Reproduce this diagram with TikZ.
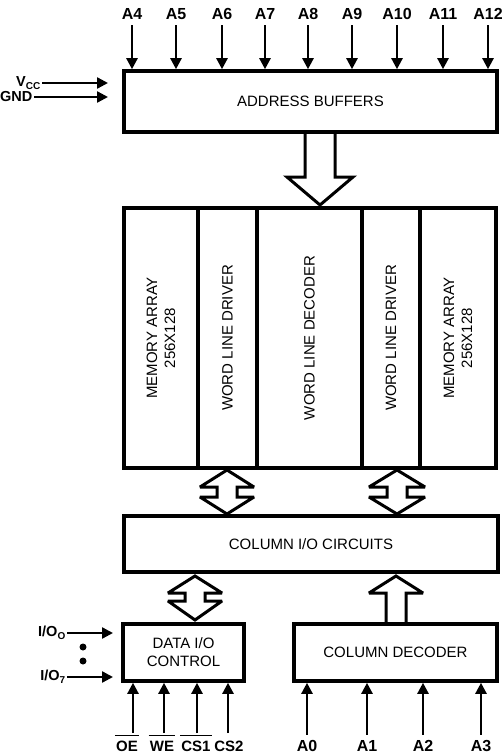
\documentclass[tikz,border=0pt]{standalone}
\usepackage{fontspec}
\setmainfont{Liberation Sans}
\usetikzlibrary{arrows.meta,calc}
\newcommand\sub[1]{\raisebox{-0.35ex}{\fontsize{10}{10}\selectfont #1}}
\begin{document}
\begin{tikzpicture}[x=1pt,y=-1pt,
  box/.style={draw, line width=3.6pt, inner sep=0pt, align=center,
    font=\fontsize{15}{18}\selectfont},
  pin/.style={font=\bfseries\fontsize{16}{18}\selectfont, inner sep=1.5pt},
  bpin/.style={font=\bfseries\fontsize{15}{18}\selectfont, inner sep=1pt},
  side/.style={font=\bfseries\fontsize{14.5}{16}\selectfont, inner sep=1.5pt, anchor=east},
  sig/.style={line width=2.4pt, -{Triangle[length=11pt,width=11pt]}},
  fat/.style={line width=3pt, line join=miter, miter limit=3},
  dotmark/.style={circle, fill, inner sep=0pt, minimum size=7pt}]
\useasboundingbox (0,0) rectangle (502,755);

% boxes
\node[box, minimum width=373pt, minimum height=61pt] (addr) at (310.5,101.5) {ADDRESS BUFFERS};
\node[box, minimum width=74pt, minimum height=260pt] (mem1) at (161,338) {};
\node[box, minimum width=59pt, minimum height=260pt] (wld1) at (227.5,338) {};
\node[box, minimum width=105pt, minimum height=260pt] (dec) at (309.5,338) {};
\node[box, minimum width=58pt, minimum height=260pt] (wld2) at (391,338) {};
\node[box, minimum width=76pt, minimum height=260pt] (mem2) at (458,338) {};
\node[box, draw=none, rotate=90] at (mem1.center) {MEMORY ARRAY\\256X128};
\node[box, draw=none, rotate=90] at (wld1.center) {WORD LINE DRIVER};
\node[box, draw=none, rotate=90] at (dec.center) {WORD LINE DECODER};
\node[box, draw=none, rotate=90] at (wld2.center) {WORD LINE DRIVER};
\node[box, draw=none, rotate=90] at (mem2.center) {MEMORY ARRAY\\256X128};
\node[box, minimum width=374pt, minimum height=56pt] (colio) at (311,544) {COLUMN I/O CIRCUITS};
\node[box, minimum width=121pt, minimum height=57pt] (dio) at (183.5,652.5) {DATA I/O\\CONTROL};
\node[box, minimum width=203pt, minimum height=57pt] (cdec) at (395.5,652.5) {COLUMN DECODER};

% top address pins
\foreach \x/\t in {132/A4,176/A5,222/A6,265/A7,308/A8,352/A9,397/A10,443/A11,488/A12}{
  \node[pin] (p\t) at (\x,14) {\t};
  \draw[sig] (p\t.south |- 0,25) -- (p\t.south |- addr.north);
}

% Vcc / GND
\node[side] (vcc) at (42,83) {V\sub{CC}};
\node[side] (gnd) at (34,97) {GND};
\coordinate (vccend) at (108,83);
\coordinate (gndend) at (108,97);
\draw[sig] (vcc.east) -- (vccend);
\draw[sig] (gnd.east) -- (gndend);

% fat arrow address -> array
\draw[fat] (305,132) -- (305,177) -- (287,177) -- (320,205) -- (353,177) -- (335,177) -- (335,132);

% double arrows
\newcommand\fatdbl[5]{% c, top, bottom, hbot, W
  \draw[fat] (#1,#2) -- (#1+#5,#2+17) -- (#1+10,#2+17) -- (#1+10,#3-#4) -- (#1+#5,#3-#4)
    -- (#1,#3) -- (#1-#5,#3-#4) -- (#1-10,#3-#4) -- (#1-10,#2+17) -- (#1-#5,#2+17) -- cycle;}
\fatdbl{227}{470}{514}{17}{27}
\fatdbl{397}{470}{514}{17}{28}
\fatdbl{195}{576}{620}{19}{27}
% up arrow column decoder -> column io
\draw[fat] (386,622) -- (386,593) -- (369,593) -- (396,576) -- (423,593) -- (406,593) -- (406,622);

% I/O lines
\node[side] (io0) at (67,633) {I/O\sub{O}};
\node[side] (io7) at (67,677) {I/O\sub{7}};
\coordinate (io0end) at (113,633);
\coordinate (io7end) at (113,677);
\draw[sig] (io0.east) -- (io0end);
\draw[sig] (io7.east) -- (io7end);
\node[dotmark] (d1) at (83,647) {};
\node[dotmark] (d2) at (83,661) {};

% bottom pins
\node[bpin] (oe) at (127,746) {OE};
\node[bpin] (we) at (162,746) {WE};
\node[bpin] (cs1) at (196,746) {CS1};
\node[bpin] (cs2) at (229,746) {CS2};
\node[pin] (a0) at (307,746) {A0};
\node[pin] (a1) at (367,746) {A1};
\node[pin] (a2) at (423,746) {A2};
\node[pin] (a3) at (481,746) {A3};
\foreach \n in {oe,we,cs1}{
  \draw[line width=1.6pt] ($(\n.north west)+(0,-4)$) -- ($(\n.north east)+(0,-4)$);
}
\coordinate (soe) at (133,733);
\coordinate (swe) at (164,733);
\coordinate (scs1) at (197,733);
\coordinate (scs2) at (228,733);
\draw[sig] (soe) -- (soe |- dio.south);
\draw[sig] (swe) -- (swe |- dio.south);
\draw[sig] (scs1) -- (scs1 |- dio.south);
\draw[sig] (scs2) -- (scs2 |- dio.south);
\foreach \n in {a0,a1,a2,a3}{
  \draw[sig] ($(\n.north)+(0,-4)$) -- (\n.north |- cdec.south);
}
\end{tikzpicture}
\end{document}
